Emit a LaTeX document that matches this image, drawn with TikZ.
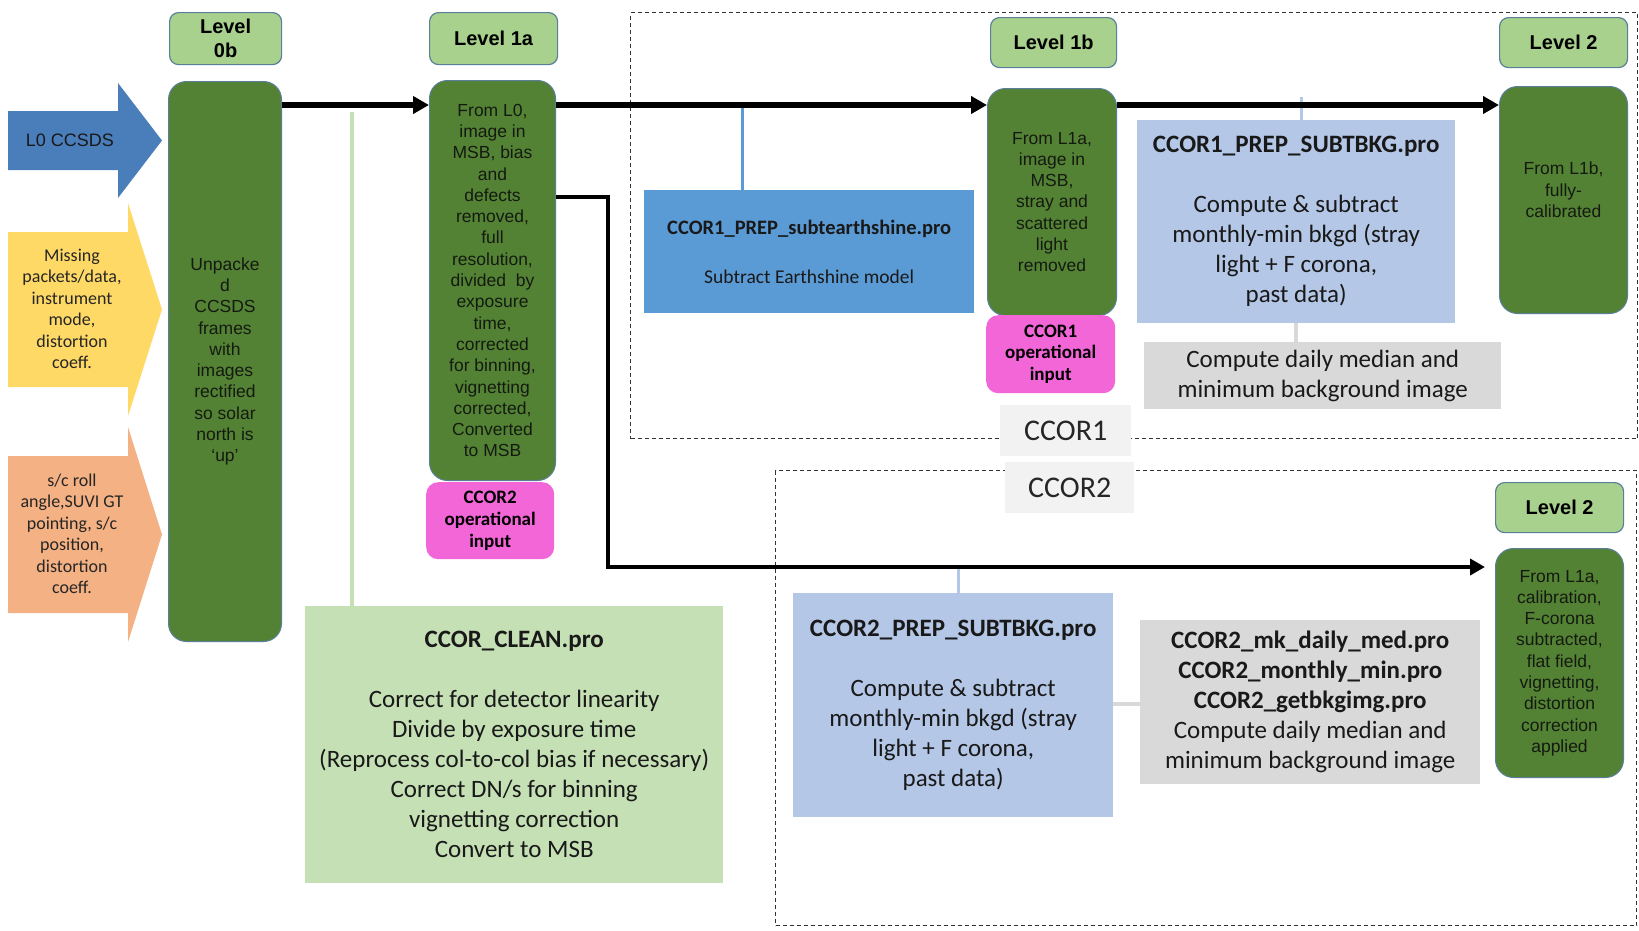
\documentclass[tikz,border=0pt]{standalone}
\usepackage{fontspec}
\setmainfont{Carlito}
\newfontfamily\arialf{Liberation Sans}
\usetikzlibrary{arrows.meta}
\definecolor{dkgreen}{HTML}{548235}
\definecolor{lvlfill}{HTML}{A9D18E}
\definecolor{edgeblue}{HTML}{5A7F99}
\definecolor{pinkc}{HTML}{F266D8}
\definecolor{bluearrow}{HTML}{4A7EBB}
\definecolor{yellowc}{HTML}{FFD966}
\definecolor{orangec}{HTML}{F4B183}
\definecolor{midblue}{HTML}{5B9BD5}
\definecolor{lightblue}{HTML}{B4C7E7}
\definecolor{greyc}{HTML}{D9D9D9}
\definecolor{paleg}{HTML}{C5E0B4}
\definecolor{labelg}{HTML}{F2F2F2}
\definecolor{gtxt}{HTML}{141A10}
\begin{document}
\begin{tikzpicture}[x=1pt,y=-1pt,
 lvl/.style={draw=edgeblue, line width=1.2pt, fill=lvlfill, rounded corners=9pt, inner sep=0pt, align=center, anchor=north west, text=black, font=\arialf\bfseries\fontsize{20}{24}\selectfont},
 gbox/.style={draw=edgeblue, line width=1pt, fill=dkgreen, rounded corners=18pt, inner sep=0pt, align=center, anchor=north west, text=gtxt, font=\arialf\fontsize{17.5}{21.3}\selectfont},
 gtext/.style={inner sep=0pt, align=center, text=gtxt, font=\arialf\fontsize{17.5}{21.3}\selectfont},
 pbox/.style={fill=pinkc, rounded corners=12pt, inner sep=0pt, align=center, anchor=north west, text=black, font=\bfseries\fontsize{19}{21.7}\selectfont},
 rbox/.style={inner sep=0pt, align=center, anchor=north west, text=black!90, font=\fontsize{25}{30}\selectfont},
 atext/.style={inner sep=0pt, align=center, text=black!85, font=\fontsize{18}{21.5}\selectfont},
 lab/.style={fill=labelg, inner sep=0pt, anchor=north west, text=black!85, font=\fontsize{30}{36}\selectfont},
 grp/.style={draw=black!80, line width=1.2pt, dash pattern=on 4pt off 3pt, inner sep=0pt, anchor=north west},
 flow/.style={line width=6pt, -{Triangle[length=16pt,width=17pt]}},
 flowb/.style={line width=4.5pt, -{Triangle[length=15pt,width=16pt]}},
 gconn/.style={draw=paleg, line width=4pt},
 bconn/.style={draw=midblue, line width=3pt},
 lbconn/.style={draw=lightblue, line width=3pt},
 grconn/.style={draw=greyc, line width=4pt}
]
\fill[white] (0,0) rectangle (1639,930);
\useasboundingbox (0,0) rectangle (1639,930);

% group frames
\node[grp, minimum width=1007pt, minimum height=426pt] (grp1) at (630,12) {};
\node[grp, minimum width=861pt, minimum height=455pt] (grp2) at (775,470) {};

% block arrows (inputs)
\fill[bluearrow] (8,111) -- (118,111) -- (118,83) -- (162,140.5) -- (118,198) -- (118,170) -- (8,170) -- cycle;
\node[atext, text=black!90, font=\arialf\fontsize{18}{21.5}\selectfont] (l0) at (70,140) {L0 CCSDS};
\fill[yellowc] (8,232) -- (128,232) -- (128,203) -- (162,309.5) -- (128,416) -- (128,387) -- (8,387) -- cycle;
\node[atext] (miss) at (72,309) {Missing\\packets/data,\\instrument\\mode,\\distortion\\coeff.};
\fill[orangec] (8,456) -- (128,456) -- (128,427) -- (162,534.5) -- (128,642) -- (128,613) -- (8,613) -- cycle;
\node[atext] (roll) at (72,534) {s/c roll\\angle,SUVI GT\\pointing, s/c\\position,\\distortion\\coeff.};

% level headers
\node[lvl, minimum width=112pt, minimum height=52pt] (h0b) at (169,12) {Level\\0b};
\node[lvl, minimum width=128pt, minimum height=52pt] (h1a) at (429,12) {Level 1a};
\node[lvl, minimum width=126pt, minimum height=50pt] (h1b) at (990,17) {Level 1b};
\node[lvl, minimum width=128pt, minimum height=50pt] (h2a) at (1499,17) {Level 2};
\node[lvl, minimum width=128pt, minimum height=50pt] (h2b) at (1495,482) {Level 2};

% process boxes
\node[rbox, fill=midblue, minimum width=330pt, minimum height=123pt, font=\fontsize{19.5}{24}\selectfont] (earth) at (644,190) {{\bfseries\fontsize{20.5}{24}\selectfont CCOR1\_PREP\_subtearthshine.pro}\\[25pt]Subtract Earthshine model};
\node[rbox, fill=lightblue, minimum width=318pt, minimum height=203pt] (sub1) at (1137,120) {{\bfseries CCOR1\_PREP\_SUBTBKG.pro}\\[30pt]Compute \& subtract\\monthly-min bkgd (stray\\light + F corona,\\past data)};
\node[rbox, fill=greyc, minimum width=357pt, minimum height=67pt] (grey1) at (1144,342) {Compute daily median and\\minimum background image};
\node[rbox, fill=paleg, minimum width=418pt, minimum height=277pt] (clean) at (305,606) {{\bfseries CCOR\_CLEAN.pro}\\[30pt]Correct for detector linearity\\Divide by exposure time\\(Reprocess col-to-col bias if necessary)\\Correct DN/s for binning\\vignetting correction\\Convert to MSB};
\node[rbox, fill=lightblue, minimum width=320pt, minimum height=224pt] (sub2) at (793,593) {{\bfseries CCOR2\_PREP\_SUBTBKG.pro}\\[30pt]Compute \& subtract\\monthly-min bkgd (stray\\light + F corona,\\past data)};
\node[rbox, fill=greyc, minimum width=340pt, minimum height=164pt] (grey2) at (1140,620) {{\bfseries CCOR2\_mk\_daily\_med.pro}\\{\bfseries CCOR2\_monthly\_min.pro}\\{\bfseries CCOR2\_getbkgimg.pro}\\Compute daily median and\\minimum background image};

% connectors to process boxes
\coordinate (gl) at (352,112);
\draw[gconn] (gl) -- (gl |- clean.north);
\coordinate (bl) at (742,105);
\draw[bconn] (bl) -- (bl |- earth.north);
\coordinate (lb1) at (1301,97);
\draw[lbconn] (lb1) -- (lb1 |- sub1.north);
\coordinate (gv1) at (1296,330);
\draw[grconn] (gv1 |- sub1.south) -- (gv1 |- grey1.north);
\coordinate (lb2) at (958,567);
\draw[lbconn] (lb2) -- (lb2 |- sub2.north);
\coordinate (gh2) at (1120,704);
\draw[grconn] (sub2.east |- gh2) -- (grey2.west |- gh2);

% green level boxes
\node[gbox, minimum width=113pt, minimum height=560pt] (g0b) at (168,81) {Unpacke\\d\\CCSDS\\frames\\with\\images\\rectified\\so solar\\north is\\‘up’};
\node[gbox, minimum width=126pt, minimum height=400pt] (g1a) at (429,80) {From L0,\\image in\\MSB, bias\\and\\defects\\removed,\\full\\resolution,\\divided\ \ by\\exposure\\time,\\corrected\\for binning,\\vignetting\\corrected,\\Converted\\to MSB};
\node[gbox, minimum width=129pt, minimum height=227pt] (g1b) at (987,88) {From L1a,\\image in\\MSB,\\stray and\\scattered\\light\\removed};
\node[gbox, minimum width=128pt, minimum height=227pt] (g2a) at (1499,86) {};
\node[gtext] (t2a) at ([yshift=10pt]g2a.center) {From L1b,\\fully-\\calibrated};
\node[gbox, minimum width=128pt, minimum height=229pt] (g2b) at (1495,548) {From L1a,\\calibration,\\F-corona\\subtracted,\\flat field,\\vignetting,\\distortion\\correction\\applied};

% operational input boxes
\node[pbox, minimum width=128pt, minimum height=77pt] (p2) at (426,482) {CCOR2\\operational\\input};
\node[pbox, minimum width=129pt, minimum height=78pt] (p1) at (986,315) {CCOR1\\operational\\input};

% main flow
\coordinate (m) at (0,105);
\draw[flow] (g0b.east |- m) -- (g1a.west |- m);
\draw[flow] (g1a.east |- m) -- (g1b.west |- m);
\draw[flow] (g1b.east |- m) -- (g2a.west |- m);
\coordinate (c1) at (608,197);
\coordinate (c2) at (608,567);
\draw[flowb, shorten >=10pt] (g1a.east |- c1) -- (c1) -- (c2) -- (g2b.west |- c2);

% group labels
\node[lab, minimum width=131pt, minimum height=51pt] (lab1) at (1000,405) {CCOR1};
\node[lab, minimum width=129pt, minimum height=51pt] (lab2) at (1005,462) {CCOR2};
\end{tikzpicture}
\end{document}
